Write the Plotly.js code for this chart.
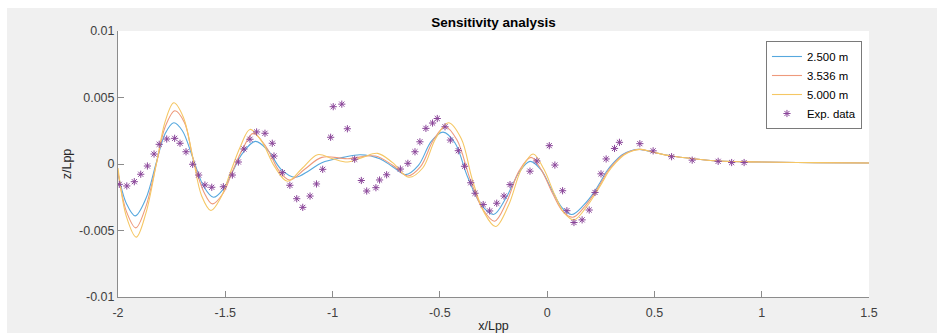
<!DOCTYPE html>
<html>
<head>
<meta charset="utf-8">
<script src="https://cdn.plot.ly/plotly-3.0.1.min.js"></script>
<style>
  html, body { margin: 0; padding: 0; background: #ffffff; width: 937px; height: 333px; overflow: hidden; }
  #chart { position: absolute; left: 7px; top: 8px; width: 930px; height: 325px; }
</style>
</head>
<body>
<div id="chart"></div>
<script>
// ---- Data ----
const xTickVals = [-2, -1.5, -1, -0.5, 0, 0.5, 1, 1.5];
const xTickText = ["-2", "-1.5", "-1", "-0.5", "0", "0.5", "1", "1.5"];
const yTickVals = [-0.01, -0.005, 0, 0.005, 0.01];
const yTickText = ["-0.01", "-0.005", "0", "0.005", "0.01"];

const seriesNames = ["2.500 m", "3.536 m", "5.000 m", "Exp. data"];

const x25 = [-2.00,-1.96,-1.92,-1.87,-1.82,-1.78,-1.74,-1.70,-1.65,-1.60,-1.555,-1.51,-1.47,-1.42,-1.36,-1.30,-1.24,-1.175,-1.11,-1.05,-0.95,-0.87,-0.78,-0.72,-0.66,-0.60,-0.54,-0.485,-0.43,-0.37,-0.31,-0.25,-0.19,-0.13,-0.08,-0.03,0.02,0.07,0.115,0.17,0.22,0.25,0.275,0.31,0.35,0.39,0.43,0.49,0.58,0.68,0.80,1.0,1.25,1.5];
const z25 = [-0.0007,-0.0030,-0.0039,-0.0026,0.0002,0.0023,0.0031,0.0025,0.0004,-0.0017,-0.0025,-0.0019,-0.0007,0.0008,0.0017,0.0010,-0.0004,-0.0010,-0.0005,0.0001,0.0005,0.0007,0.0004,-0.0002,-0.0008,-0.0001,0.0017,0.0024,0.0016,-0.0010,-0.0030,-0.0038,-0.0025,-0.0006,0.0002,-0.0004,-0.0019,-0.0033,-0.0038,-0.0031,-0.0021,-0.0013,-0.0006,0.0001,0.0007,0.0010,0.0011,0.0009,0.0006,0.0004,0.00023,0.00015,0.0001,0.00008];

const x35 = [-2.00,-1.96,-1.917,-1.87,-1.82,-1.78,-1.735,-1.69,-1.65,-1.60,-1.56,-1.51,-1.47,-1.42,-1.37,-1.31,-1.25,-1.20,-1.13,-1.05,-0.93,-0.80,-0.72,-0.65,-0.59,-0.53,-0.476,-0.42,-0.36,-0.30,-0.245,-0.19,-0.13,-0.075,-0.025,0.025,0.075,0.12,0.175,0.225,0.255,0.28,0.315,0.355,0.395,0.435,0.49,0.58,0.68,0.80,1.0,1.25,1.5];
const z35 = [-0.0006,-0.0036,-0.0048,-0.0032,0.0001,0.0028,0.0040,0.0031,0.0004,-0.0021,-0.0030,-0.0022,-0.0007,0.0011,0.0023,0.0013,-0.0005,-0.0012,-0.0004,0.0005,0.0004,0.0006,-0.0001,-0.0009,-0.0002,0.0018,0.0028,0.0018,-0.0011,-0.0034,-0.0043,-0.0029,-0.0005,0.0005,-0.0005,-0.0022,-0.0036,-0.0040,-0.0032,-0.0021,-0.0013,-0.0006,0.0001,0.0007,0.0010,0.0011,0.0009,0.0006,0.0004,0.00023,0.00015,0.0001,0.00008];

const x50 = [-2.00,-1.96,-1.915,-1.87,-1.82,-1.78,-1.74,-1.695,-1.65,-1.61,-1.567,-1.52,-1.48,-1.43,-1.385,-1.33,-1.27,-1.21,-1.14,-1.07,-1.0,-0.93,-0.86,-0.79,-0.72,-0.645,-0.58,-0.52,-0.46,-0.40,-0.35,-0.295,-0.24,-0.18,-0.12,-0.065,-0.015,0.035,0.08,0.125,0.18,0.23,0.26,0.285,0.32,0.36,0.40,0.44,0.49,0.58,0.68,0.80,1.0,1.25,1.5];
const z50 = [-0.0003,-0.0040,-0.0055,-0.0037,0.0001,0.0032,0.0046,0.0035,0.0004,-0.0024,-0.0035,-0.0025,-0.0008,0.0013,0.0026,0.0017,-0.0002,-0.0013,-0.0003,0.0007,0.0004,0.00015,0.0005,0.0008,0.0001,-0.0010,-0.0003,0.0019,0.0031,0.0019,-0.0011,-0.0036,-0.0047,-0.0031,-0.0004,0.00075,-0.0004,-0.0023,-0.0037,-0.0042,-0.0033,-0.0021,-0.0013,-0.0006,0.0001,0.0007,0.0010,0.0011,0.0009,0.0006,0.0004,0.00023,0.00015,0.0001,0.00008];

const expX = [-1.994,-1.959,-1.924,-1.894,-1.863,-1.832,-1.808,-1.773,-1.736,-1.711,-1.683,-1.652,-1.624,-1.595,-1.563,-1.509,-1.467,-1.439,-1.413,-1.385,-1.354,-1.315,-1.281,-1.273,-1.234,-1.199,-1.167,-1.139,-1.105,-1.075,-1.046,-1.009,-0.997,-0.957,-0.931,-0.897,-0.866,-0.841,-0.798,-0.781,-0.748,-0.684,-0.649,-0.616,-0.593,-0.565,-0.534,-0.512,-0.476,-0.451,-0.414,-0.385,-0.356,-0.336,-0.298,-0.268,-0.235,-0.201,-0.173,-0.080,-0.048,0.010,0.036,0.072,0.092,0.125,0.163,0.196,0.223,0.251,0.275,0.314,0.337,0.432,0.494,0.580,0.676,0.797,0.860,0.918];
const expY = [-0.00153,-0.00165,-0.00133,-0.00077,-0.00015,0.00075,0.00148,0.00188,0.00193,0.00156,0.00092,-0.00002,-0.00083,-0.00158,-0.00175,-0.00171,-0.00083,0.00015,0.00113,0.00186,0.00241,0.00231,0.00156,0.0006,-0.00065,-0.0016,-0.00261,-0.00326,-0.00241,-0.0015,-0.0004,0.00201,0.00431,0.0045,0.00265,0.00036,-0.00124,-0.00203,-0.00178,-0.0012,-0.00081,-0.00038,0.00005,0.00092,0.00167,0.00268,0.00308,0.00342,0.0028,0.0018,0.001,-0.00017,-0.00141,-0.0022,-0.00305,-0.00353,-0.00295,-0.00241,-0.00155,-0.00054,0.00023,0.00138,-0.00008,-0.00201,-0.00351,-0.0044,-0.0042,-0.00346,-0.00214,-0.00074,0.00038,0.00117,0.00163,0.00153,0.00099,0.00055,0.00029,0.0002,0.00011,0.00011];

// ---- Styling ----
const FONT = '"Liberation Sans", Arial, Helvetica, sans-serif';
const lineColors = ['#56a8de', '#ee9a7c', '#f5c764'];

const traces = [
  { x: x25, y: z25, name: seriesNames[0], type: 'scatter', mode: 'lines',
    line: { color: lineColors[0], width: 1.1, shape: 'spline', smoothing: 1 } },
  { x: x35, y: z35, name: seriesNames[1], type: 'scatter', mode: 'lines',
    line: { color: lineColors[1], width: 1.1, shape: 'spline', smoothing: 1 } },
  { x: x50, y: z50, name: seriesNames[2], type: 'scatter', mode: 'lines',
    line: { color: lineColors[2], width: 1.1, shape: 'spline', smoothing: 1 } },
  { x: expX, y: expY, name: seriesNames[3], type: 'scatter', mode: 'markers',
    marker: { symbol: 'asterisk-open', size: 6, color: '#8a4599', line: { color: '#8a4599', width: 1 } } }
];

const axisCommon = {
  showgrid: false, zeroline: false, showline: true, mirror: false,
  linecolor: '#8c8c8c', linewidth: 1,
  ticks: 'inside', ticklen: 6, tickwidth: 1, tickcolor: '#8c8c8c',
  tickfont: { family: FONT, size: 12.5, color: '#404040' },
  fixedrange: true
};

const layout = {
  width: 930, height: 325,
  margin: { l: 111, r: 68, t: 23, b: 36, pad: 0 },
  paper_bgcolor: '#f0f0f0',
  plot_bgcolor: '#ffffff',
  font: { family: FONT, color: '#262626' },
  title: {
    text: 'Sensitivity analysis',
    font: { family: FONT, size: 13.5, weight: 'bold', color: '#000000' },
    x: 0.5, xref: 'paper', xanchor: 'center',
    y: 0.955, yref: 'container', yanchor: 'middle'
  },
  xaxis: Object.assign({}, axisCommon, {
    range: [-2, 1.5], tickmode: 'array', tickvals: xTickVals, ticktext: xTickText,
    ticklabelstandoff: 4,
    title: { text: 'x/Lpp', font: { family: FONT, size: 12.5, color: '#262626' }, standoff: 10 },
    automargin: false
  }),
  yaxis: Object.assign({}, axisCommon, {
    range: [-0.01, 0.01], tickmode: 'array', tickvals: yTickVals, ticktext: yTickText,
    title: { text: 'z/Lpp', font: { family: FONT, size: 12.5, color: '#262626' }, standoff: 4 },
    automargin: false
  }),
  showlegend: true,
  legend: {
    x: 0.8628, y: 0.9624, xanchor: 'left', yanchor: 'top',
    bgcolor: '#ffffff', bordercolor: '#7a7a7a', borderwidth: 1,
    font: { family: FONT, size: 11.4, color: '#000000' },
    tracegroupgap: 0
  }
};

Plotly.newPlot('chart', traces, layout, { displayModeBar: false, staticPlot: true });
</script>
</body>
</html>
